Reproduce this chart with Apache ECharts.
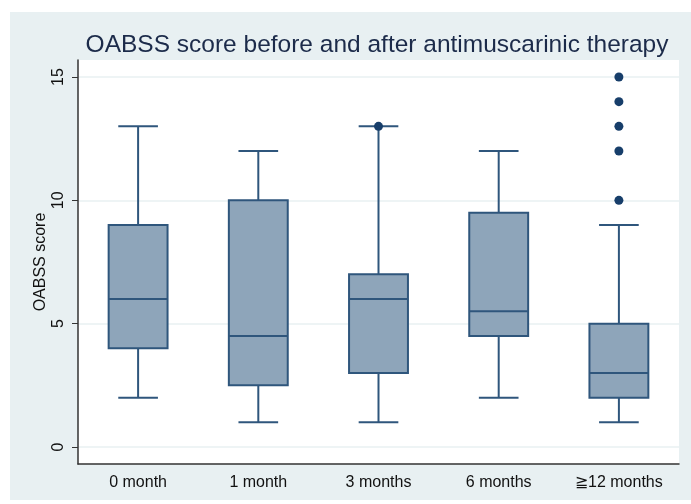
<!DOCTYPE html>
<html>
<head>
<meta charset="utf-8">
<script src="https://cdn.jsdelivr.net/npm/echarts@6/dist/echarts.min.js"></script>
<style>
  html, body { margin: 0; padding: 0; background: #fff; }
  #main { width: 691px; height: 504px; }
</style>
</head>
<body>
<div id="main"></div>
<script>
// 各时间点
var categories = ["0 month", "1 month", "3 months", "6 months", "≧12 months"];
// [min, Q1, median, Q3, max]
var boxStats = [
  [2, 4, 6, 9, 13],
  [1, 2.5, 4.5, 10, 12],
  [1, 3, 6, 7, 13],
  [2, 4.5, 5.5, 9.5, 12],
  [1, 2, 3, 5, 9]
];
// 离群值 [category index, value]
var outliers = [
  [2, 13],
  [4, 10], [4, 12], [4, 13], [4, 14], [4, 15]
];
var yTicks = [0, 5, 10, 15];

var boxFill = "#8ea5ba";
var boxLine = "#2f567c";
var textColor = "#1c2b4a";

var chart = echarts.init(document.getElementById("main"));

function renderBox(params, api) {
  var idx = api.value(0);
  var lo = api.coord([idx, api.value(1)]);
  var q1 = api.coord([idx, api.value(2)]);
  var med = api.coord([idx, api.value(3)]);
  var q3 = api.coord([idx, api.value(4)]);
  var hi = api.coord([idx, api.value(5)]);
  var band = api.size([1, 0])[0];
  var bw = band * 0.49;
  var cw = band * 0.33;
  var x = q1[0];
  var lineStyle = { stroke: boxLine, lineWidth: 2, fill: null };
  return {
    type: "group",
    children: [
      { type: "line", shape: { x1: x, y1: q3[1], x2: x, y2: hi[1] }, style: lineStyle },
      { type: "line", shape: { x1: x, y1: q1[1], x2: x, y2: lo[1] }, style: lineStyle },
      { type: "line", shape: { x1: x - cw / 2, y1: hi[1], x2: x + cw / 2, y2: hi[1] }, style: lineStyle },
      { type: "line", shape: { x1: x - cw / 2, y1: lo[1], x2: x + cw / 2, y2: lo[1] }, style: lineStyle },
      {
        type: "rect",
        shape: { x: x - bw / 2, y: q3[1], width: bw, height: q1[1] - q3[1] },
        style: { fill: boxFill, stroke: boxLine, lineWidth: 2 }
      },
      { type: "line", shape: { x1: x - bw / 2, y1: med[1], x2: x + bw / 2, y2: med[1] }, style: lineStyle }
    ]
  };
}

var option = {
  backgroundColor: "#ffffff",
  animation: false,
  graphic: [
    {
      type: "rect",
      left: 10, top: 12,
      shape: { width: 681, height: 488 },
      style: { fill: "#e8f0f2" },
      z: -10
    },
    {
      type: "rect",
      left: 78, top: 60,
      shape: { width: 601, height: 404 },
      style: { fill: "#ffffff" },
      z: -9
    }
  ],
  title: {
    text: "OABSS score before and after antimuscarinic therapy",
    left: 372,
    textAlign: "center",
    top: 28,
    textStyle: {
      fontFamily: "Liberation Sans",
      fontWeight: "normal",
      fontSize: 24.5,
      color: textColor
    }
  },
  grid: { left: 78, right: 12, top: 60, bottom: 40 },
  xAxis: {
    type: "category",
    data: categories,
    axisLine: { onZero: false, lineStyle: { color: "#333", width: 1.5 } },
    axisTick: { show: false },
    axisLabel: {
      fontFamily: "Liberation Sans",
      fontSize: 16,
      color: "#111",
      margin: 11
    }
  },
  yAxis: {
    type: "value",
    min: -0.69,
    max: 15.69,
    name: "OABSS score",
    nameLocation: "middle",
    nameRotate: 90,
    nameGap: 29,
    nameMoveOverlap: false,
    nameTextStyle: { fontFamily: "Liberation Sans", fontSize: 16, color: "#111" },
    axisLine: { show: true, lineStyle: { color: "#333", width: 1.5 } },
    axisTick: { show: true, length: 6, customValues: yTicks, lineStyle: { color: "#333" } },
    axisLabel: {
      customValues: yTicks,
      rotate: 90,
      fontFamily: "Liberation Sans",
      fontSize: 16,
      color: "#111",
      margin: 11
    },
    splitLine: { show: true, lineStyle: { color: "#e8f0f2", width: 1.5 } }
  },
  series: [
    {
      type: "custom",
      renderItem: renderBox,
      encode: { x: 0, y: [1, 2, 3, 4, 5] },
      data: boxStats.map(function (s, i) { return [i].concat(s); }),
      z: 2
    },
    {
      type: "scatter",
      symbol: "circle",
      symbolSize: 9,
      itemStyle: { color: "#173e6a", opacity: 1 },
      data: outliers,
      z: 3
    }
  ]
};

chart.setOption(option);
</script>
</body>
</html>
